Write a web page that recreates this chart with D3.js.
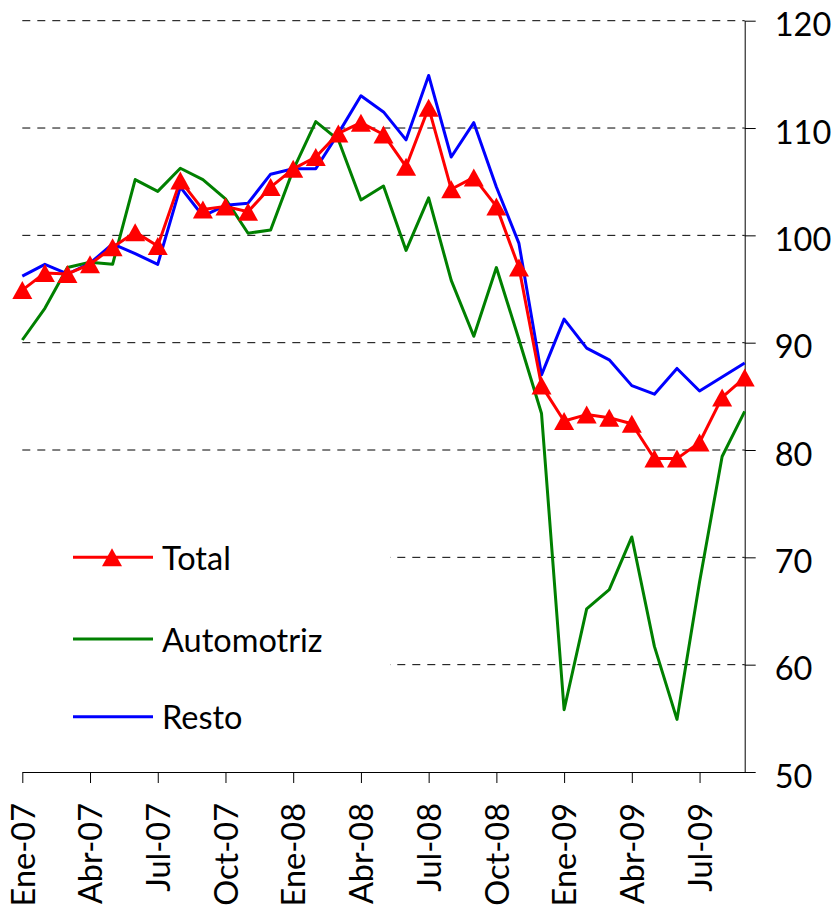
<!DOCTYPE html>
<html>
<head>
<meta charset="utf-8">
<script src="https://cdn.jsdelivr.net/npm/d3@7"></script>
<style>
  body { margin: 0; background: #fff; }
  svg { display: block; }
</style>
</head>
<body>
<svg id="chart" width="838" height="909"></svg>
<script>
let months = ["Ene-07","Feb-07","Mar-07","Abr-07","May-07","Jun-07","Jul-07","Ago-07","Sep-07","Oct-07","Nov-07","Dic-07",
  "Ene-08","Feb-08","Mar-08","Abr-08","May-08","Jun-08","Jul-08","Ago-08","Sep-08","Oct-08","Nov-08","Dic-08",
  "Ene-09","Feb-09","Mar-09","Abr-09","May-09","Jun-09","Jul-09","Ago-09","Sep-09"];

let totalValues = [94.9, 96.5, 96.4, 97.3, 98.9, 100.3, 99.0, 105.1, 102.4, 102.7, 102.2, 104.5,
  106.2, 107.3, 109.5, 110.5, 109.4, 106.4, 111.9, 104.3, 105.4, 102.7, 97.0, 86.0,
  82.7, 83.3, 83.0, 82.45, 79.2, 79.2, 80.7, 84.9, 86.75];

let automotrizValues = [90.25, 93.2, 97.0, 97.5, 97.3, 105.2, 104.1, 106.25, 105.2, 103.4, 100.2, 100.5,
  106.1, 110.6, 108.9, 103.3, 104.6, 98.6, 103.5, 95.8, 90.6, 97.0, 90.3, 83.4,
  55.8, 65.2, 67.0, 71.9, 61.7, 54.9, 67.7, 79.4, 83.6];

let restoValues = [96.2, 97.3, 96.4, 97.4, 99.2, 98.3, 97.3, 104.5, 101.8, 102.8, 103.0, 105.7,
  106.2, 106.2, 109.5, 113.0, 111.5, 108.9, 114.9, 107.3, 110.5, 104.5, 99.25, 87.0,
  92.2, 89.5, 88.4, 86.0, 85.2, 87.6, 85.5, 86.8, 88.1];

let yTicks = [50, 60, 70, 80, 90, 100, 110, 120];

let seriesNames = ["Total", "Automotriz", "Resto"];
let seriesColors = ["#ff0000", "#008000", "#0000ff"];

let fontFamily = "Lato, 'Open Sans', sans-serif";

let svg = d3.select("#chart");

let x = d3.scalePoint()
  .domain(months)
  .range([22.3, 744.7]);

let y = d3.scaleLinear()
  .domain([50, 120])
  .range([772, 20.7]);

// dashed gridlines
svg.append("g")
  .selectAll("line")
  .data(yTicks.filter(d => d > 50))
  .enter().append("line")
    .attr("x1", 22.3)
    .attr("x2", 744.7)
    .attr("y1", d => y(d))
    .attr("y2", d => y(d))
    .style("stroke", "#000")
    .style("stroke-width", 1)
    .style("stroke-dasharray", "8,7");

// legend box hides the gridlines below
svg.append("rect")
  .attr("x", 0)
  .attr("y", 475)
  .attr("width", 390)
  .attr("height", 290)
  .style("fill", "#fff");

// x axis
let xAxis = svg.append("g")
  .attr("transform", "translate(0,772)")
  .call(d3.axisBottom(x)
    .tickValues(months.filter((d, i) => i % 3 === 0))
    .tickSize(11)
    .tickSizeOuter(0));

xAxis.select(".domain").style("stroke", "#000");
xAxis.selectAll(".tick line").style("stroke", "#000");
xAxis.selectAll(".tick text")
  .attr("transform", "translate(0,31) rotate(-90)")
  .attr("x", 0)
  .attr("y", 0)
  .attr("dy", "0.36em")
  .style("text-anchor", "end")
  .style("font-family", fontFamily)
  .style("font-size", "32.5px")
  .style("fill", "#000");

// y axis on the right
let yAxis = svg.append("g")
  .attr("transform", "translate(744.7,0)")
  .call(d3.axisRight(y)
    .tickValues(yTicks)
    .tickSize(11)
    .tickSizeOuter(0));

yAxis.select(".domain").style("stroke", "#000");
yAxis.selectAll(".tick line").style("stroke", "#000");
yAxis.selectAll(".tick text")
  .attr("x", 30)
  .attr("dy", 15)
  .style("font-family", fontFamily)
  .style("font-size", "32.5px")
  .style("fill", "#000");

// triangle marker, centred on its box like Excel
let triangle = {
  draw: function(context, size) {
    let w = Math.sqrt(size);
    context.moveTo(0, -w * 0.45);
    context.lineTo(w * 0.5, w * 0.45);
    context.lineTo(-w * 0.5, w * 0.45);
    context.closePath();
  }
};
let marker = d3.symbol().type(triangle).size(400);

let line = d3.line()
  .x((d, i) => x(months[i]))
  .y(d => y(d));

let seriesData = [totalValues, automotrizValues, restoValues];

// draw order: green, blue, then red on top
[1, 2, 0].forEach(function(k) {
  svg.append("path")
    .datum(seriesData[k])
    .attr("d", line)
    .style("fill", "none")
    .style("stroke", seriesColors[k])
    .style("stroke-width", 3)
    .style("stroke-linejoin", "round");
});

svg.append("g")
  .selectAll("path")
  .data(totalValues)
  .enter().append("path")
    .attr("d", marker)
    .attr("transform", (d, i) => "translate(" + x(months[i]) + "," + y(d) + ")")
    .style("fill", seriesColors[0]);

// legend
let legendY = [557.3, 639, 716.7];
seriesNames.forEach(function(name, k) {
  svg.append("line")
    .attr("x1", 73)
    .attr("x2", 153)
    .attr("y1", legendY[k])
    .attr("y2", legendY[k])
    .style("stroke", seriesColors[k])
    .style("stroke-width", 3);
  if (k === 0) {
    svg.append("path")
      .attr("d", marker)
      .attr("transform", "translate(112," + legendY[k] + ")")
      .style("fill", seriesColors[k]);
  }
  svg.append("text")
    .attr("x", 162)
    .attr("y", legendY[k] + 12.5)
    .text(name)
    .style("font-family", fontFamily)
    .style("font-size", "32.5px")
    .style("fill", "#000");
});
</script>
</body>
</html>
